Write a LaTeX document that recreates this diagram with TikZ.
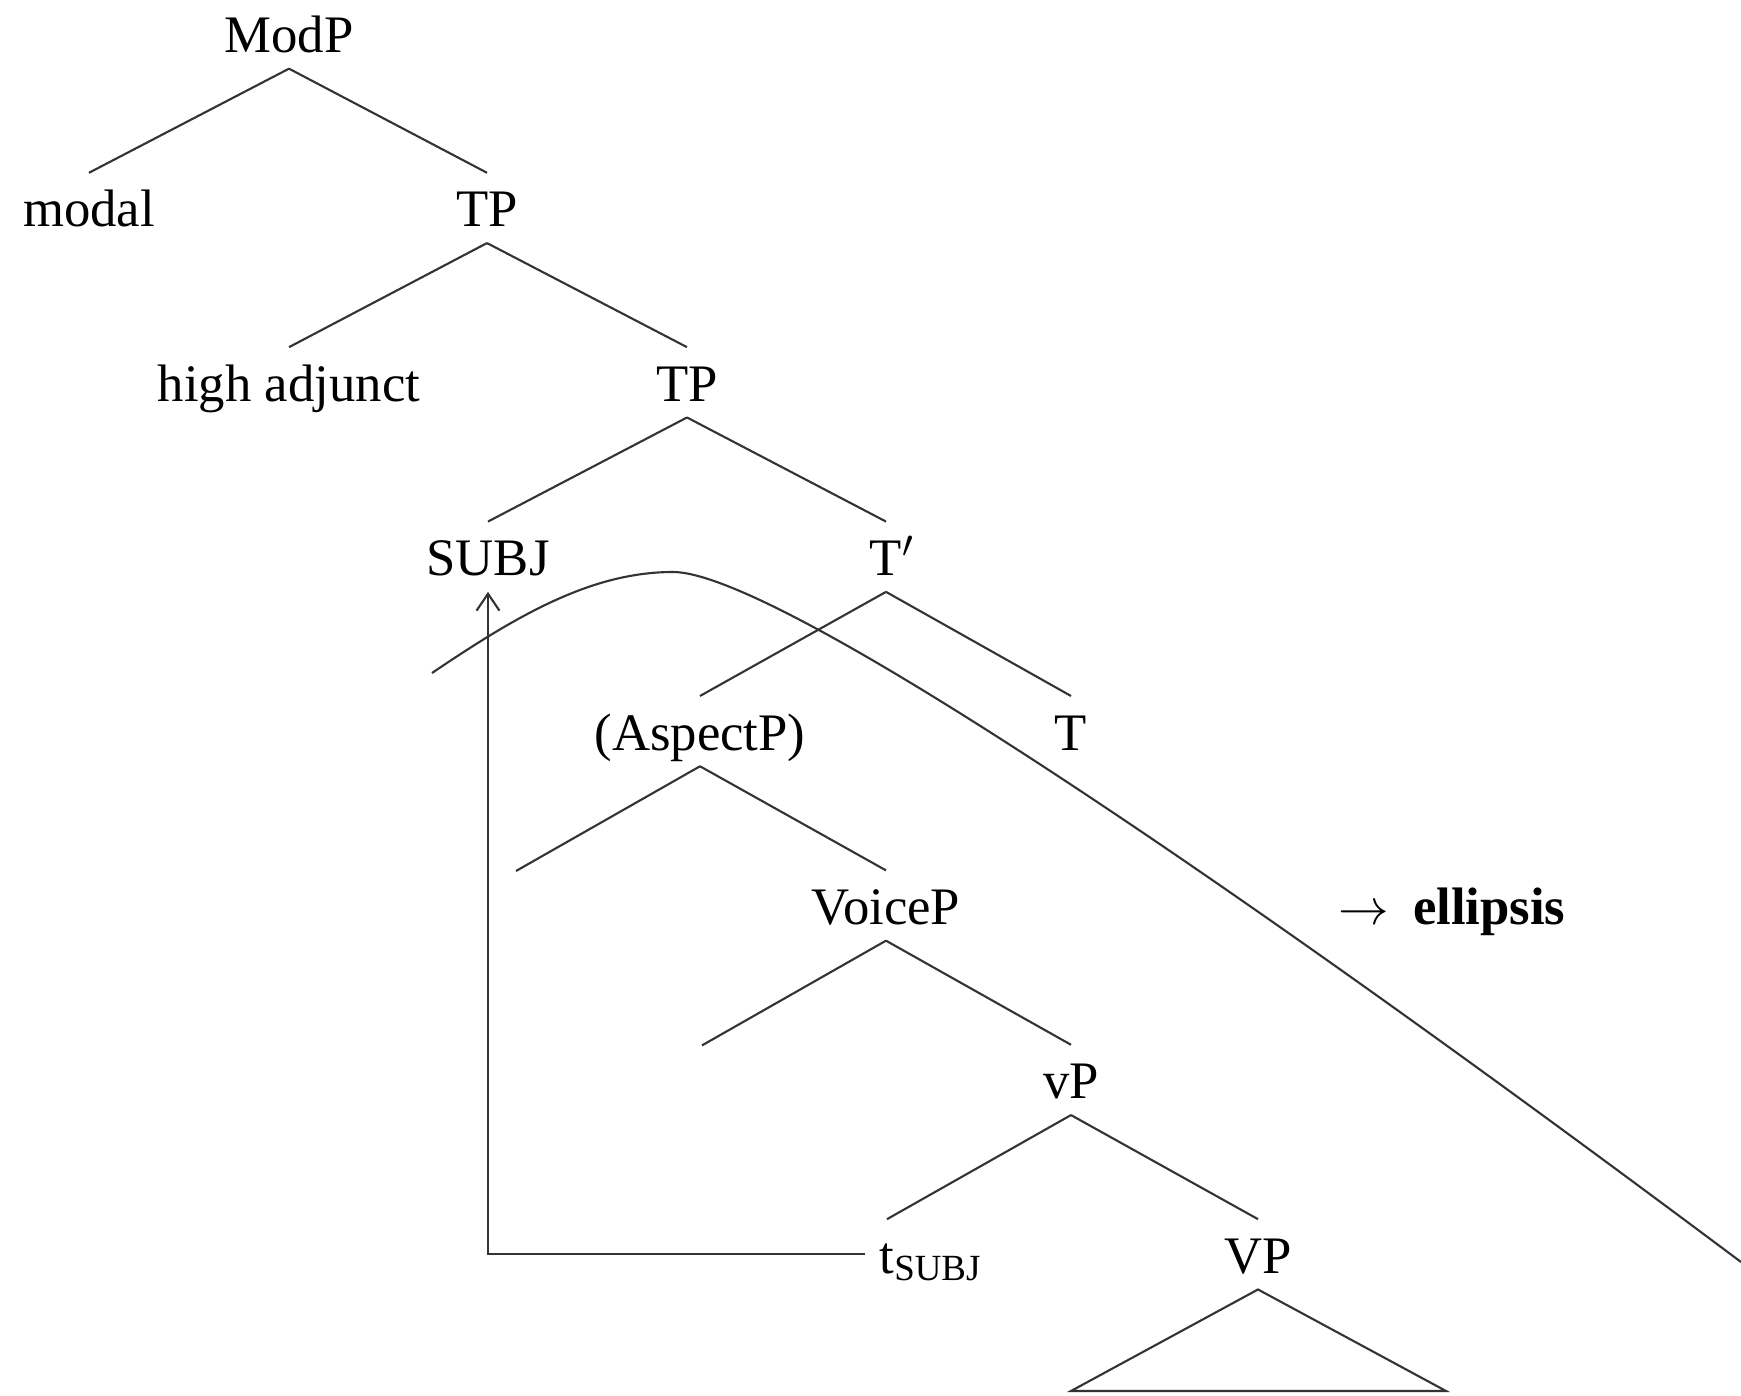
\documentclass[tikz,border=0pt]{standalone}
\usepackage{fontspec}
\setmainfont{Liberation Serif}
\usetikzlibrary{arrows.meta}
\tikzset{
  cat/.style={anchor=base, inner sep=0pt, text height=15.2pt, text depth=4.4pt, font=\fontsize{15}{18}\selectfont},
  branch/.style={draw=black!80, line width=.6pt},
}
\begin{document}
\begin{tikzpicture}[x=.1mm, y=-.1mm]
\useasboundingbox (0,0) rectangle (1741,1396);
\node[cat] (modp) at (289,52.5){ModP};
\node[cat] (modal) at (89,226.9){modal};
\node[cat] (tp1) at (487,226.9){TP};
\draw[branch](modp.south) -- (modal.north);
\draw[branch](modp.south) -- (tp1.north);
\node[cat] (adj) at (289,401.3){high adjunct};
\node[cat] (tp2) at (687,401.3){TP};
\draw[branch](tp1.south) -- (adj.north);
\draw[branch](tp1.south) -- (tp2.north);
\node[cat] (subj) at (488,575.7){SUBJ};
\node[cat] (tbar) at (886,575.7){T\rlap{$'$}};
\draw[branch](tp2.south) -- (subj.north);
\draw[branch](tp2.south) -- (tbar.north);
\node[cat] (asp) at (700,750.1){(AspectP)};
\node[cat] (t) at (1071,750.1){T};
\draw[branch](tbar.south) -- (asp.north);
\draw[branch](tbar.south) -- (t.north);
\coordinate (asp-l) at (516,871);
\node[cat] (voice) at (886,924.5){VoiceP};
\draw[branch](asp.south) -- (asp-l);
\draw[branch](asp.south) -- (voice.north);
\coordinate (voice-l) at (702,1045.4);
\node[cat] (vp) at (1071,1098.9){vP};
\draw[branch](voice.south) -- (voice-l);
\draw[branch](voice.south) -- (vp.north);
\node[cat] (tsubj) at (887,1273.3){t\rlap{\textsubscript{SUBJ}}};
\node[cat] (VP) at (1258,1273.3){VP};
\draw[branch](vp.south) -- (tsubj.north);
\draw[branch](vp.south) -- (VP.north);
% roof over VP
\coordinate (tri-l) at (1071,1391);
\coordinate (tri-r) at (1446,1391);
\draw[branch](VP.south) -- (tri-l) -- (tri-r) -- cycle;
% subject movement
\draw[branch, -{Straight Barb[length=4.8pt, width=6.5pt]}]([xshift=-4pt]tsubj.west) -| (subj.south);
% ellipsis site
\coordinate (ell-a) at (432,673);
\coordinate (ell-top) at (673,572);
\coordinate (ell-b) at (1741,1262);
\draw[branch](ell-a) .. controls (515,617) and (590,572) .. (ell-top) .. controls (765,572) and (1150,820) .. (ell-b);
\node[cat, anchor=base west] (ellipsis) at (1338,924.5){$\rightarrow$\hspace{.45em}\textbf{ellipsis}};
\end{tikzpicture}
\end{document}
